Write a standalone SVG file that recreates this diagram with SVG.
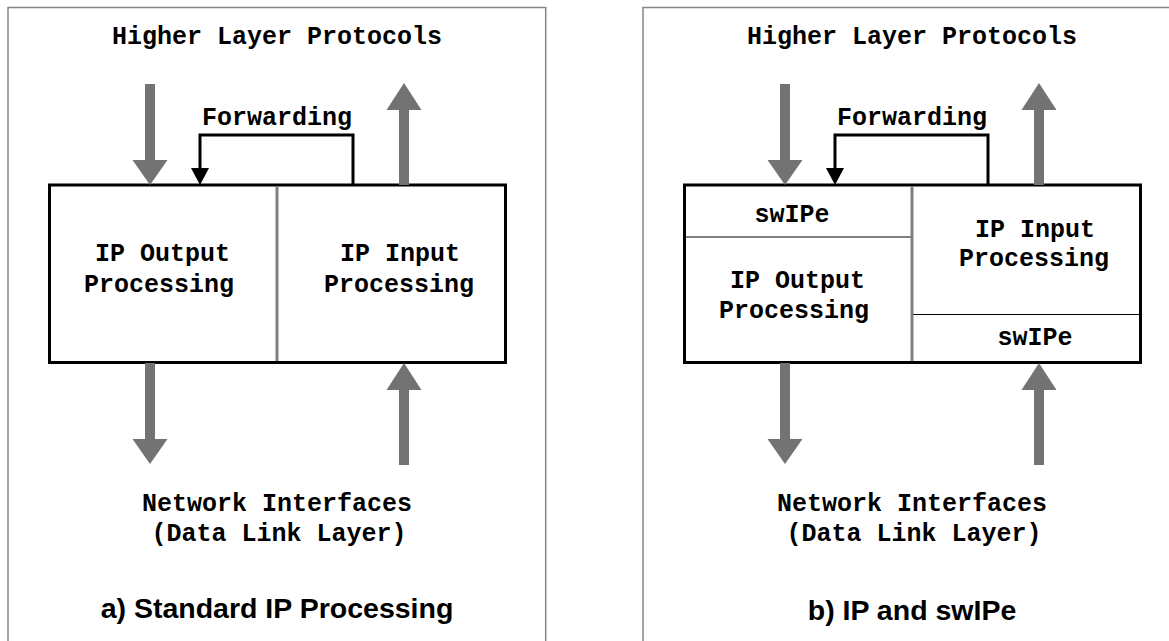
<svg xmlns="http://www.w3.org/2000/svg" width="1169" height="641" viewBox="0 0 1169 641">
  <style>
    .frame { fill: none; stroke: #858585; stroke-width: 1.5; }
    .box { fill: #ffffff; stroke: #000000; stroke-width: 3; }
    .divider { stroke: #808080; stroke-width: 3; }
    .sep { stroke: #000000; stroke-width: 1.2; }
    .flow { fill: #737373; }
    .fwd { fill: none; stroke: #000000; stroke-width: 3; }
    .mono { font-family: "Courier New", "Nimbus Mono PS", "Liberation Mono", monospace; font-weight: bold; font-size: 25px; fill: #000000; }
    .mid { text-anchor: middle; }
    .caption { font-family: "Liberation Sans", Arial, sans-serif; font-weight: bold; font-size: 28.5px; text-anchor: middle; fill: #000000; }
  </style>
  <defs>
    <!-- wide grey data-flow arrows: shaft 10px, head 35x26 -->
    <g id="arrow-down">
      <rect x="-5" y="0" width="10" height="76"/>
      <polygon points="-17.5,76 17.5,76 0,101"/>
    </g>
    <g id="arrow-up">
      <rect x="-5" y="26" width="10" height="76"/>
      <polygon points="-17.5,27 17.5,27 0,0"/>
    </g>
  </defs>

  <!-- Panel a: standard IP processing -->
  <g id="panel-a">
    <path class="frame" d="M8,641 V7.5 H545.7 V641"/>
    <g id="a-higher"><text class="mono mid" x="277" y="44">Higher Layer Protocols</text></g>
    <g id="a-box">
      <rect class="box" x="49.5" y="185" width="456" height="177.5"/>
      <line class="divider" x1="277" y1="186.5" x2="277" y2="361"/>
    </g>
    <g id="a-output"><text class="mono" x="95" y="261">IP Output</text><text class="mono" x="84" y="292">Processing</text></g>
    <g id="a-input"><text class="mono" x="340" y="261">IP Input</text><text class="mono" x="324" y="292">Processing</text></g>
    <g id="a-network"><text class="mono mid" x="277" y="511">Network Interfaces</text><text class="mono mid" x="279" y="541">(Data Link Layer)</text></g>
    <g id="a-caption"><text class="caption" x="277" y="618">a) Standard IP Processing</text></g>
    <g id="a-connectors">
      <use href="#arrow-down" class="flow" x="150" y="84"/>
      <use href="#arrow-up" class="flow" x="404" y="83"/>
      <use href="#arrow-down" class="flow" x="150" y="363"/>
      <use href="#arrow-up" class="flow" x="404" y="363"/>
      <text class="mono mid" x="277" y="125">Forwarding</text>
      <polyline class="fwd" points="353,185 353,135 200,135 200,170"/>
      <polygon points="191,168 209,168 200,185" fill="#000000"/>
    </g>
  </g>

  <!-- Panel b: IP with swIPe -->
  <g id="panel-b" transform="translate(635,0)">
    <path class="frame" d="M8,641 V7.5 H545.7 V641"/>
    <g id="b-higher"><text class="mono mid" x="277" y="44">Higher Layer Protocols</text></g>
    <g id="b-box">
      <rect class="box" x="49.5" y="185" width="456" height="177.5"/>
      <line class="sep" x1="49.5" y1="237" x2="277" y2="237"/>
      <line class="sep" x1="277" y1="314.5" x2="505.5" y2="314.5"/>
      <line class="divider" x1="277" y1="186.5" x2="277" y2="361"/>
    </g>
    <g id="b-swipe-out"><text class="mono mid" x="157" y="222">swIPe</text></g>
    <g id="b-output"><text class="mono" x="95" y="288">IP Output</text><text class="mono" x="84" y="318">Processing</text></g>
    <g id="b-input"><text class="mono" x="340" y="237">IP Input</text><text class="mono" x="324" y="266">Processing</text></g>
    <g id="b-swipe-in"><text class="mono mid" x="400" y="345">swIPe</text></g>
    <g id="b-network"><text class="mono mid" x="277" y="511">Network Interfaces</text><text class="mono mid" x="279" y="541">(Data Link Layer)</text></g>
    <g id="b-caption"><text class="caption" x="277" y="620">b) IP and swIPe</text></g>
    <g id="b-connectors">
      <use href="#arrow-down" class="flow" x="150" y="84"/>
      <use href="#arrow-up" class="flow" x="404" y="83"/>
      <use href="#arrow-down" class="flow" x="150" y="363"/>
      <use href="#arrow-up" class="flow" x="404" y="363"/>
      <text class="mono mid" x="277" y="125">Forwarding</text>
      <polyline class="fwd" points="353,185 353,135 200,135 200,170"/>
      <polygon points="191,168 209,168 200,185" fill="#000000"/>
    </g>
  </g>
</svg>
